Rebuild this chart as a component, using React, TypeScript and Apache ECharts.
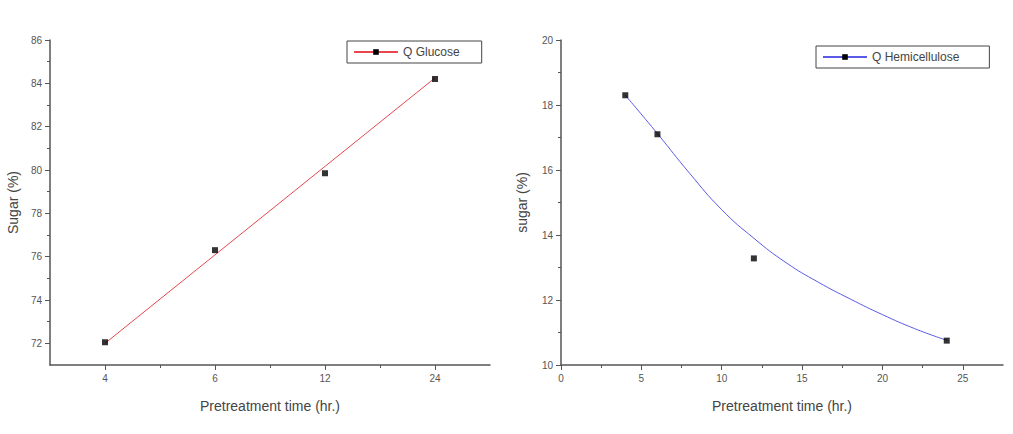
import React, { useEffect, useRef } from "react";
import * as echarts from "echarts";

// Left chart: glucose
const glucoseTimes = ["4", "6", "12", "24"];
const glucoseValues = [72.05, 76.3, 79.85, 84.2];
// straight fitted line, read at its two ends (first and last time)
const glucoseFitIdx = [0, 3];
const glucoseFitValues = [72.0, 84.25];
const leftYMajor = [72, 74, 76, 78, 80, 82, 84, 86];
const leftYMinor = [73, 75, 77, 79, 81, 83, 85];

// Right chart: hemicellulose
const hemiTimes = [4, 6, 12, 24];
const hemiValues = [18.3, 17.1, 13.28, 10.75];
const hemiFitX = [4, 6, 8, 10, 12, 14, 16, 18, 20, 22, 24];
const hemiFitY = [18.3, 17.12, 15.9, 14.78, 13.9, 13.15, 12.55, 12.03, 11.55, 11.12, 10.76];
const rightXMajor = [0, 5, 10, 15, 20, 25];
const rightXMinor = [2.5, 7.5, 12.5, 17.5, 22.5];
const rightYMajor = [10, 12, 14, 16, 18, 20];
const rightYMinor = [11, 13, 15, 17, 19];

const FONT = "Liberation Sans, Arial, sans-serif";
const AXIS_COLOR = "#555";
const LABEL_COLOR = "#555";

export default function App() {
  const ref = useRef<HTMLDivElement>(null);
  useEffect(() => {
    if (!ref.current) return;
    const chart = echarts.init(ref.current, undefined, { renderer: "svg" });

    const axisLine = { show: true, onZero: false, lineStyle: { color: AXIS_COLOR, width: 1.5 } };
    const noLine = { show: false, onZero: false };
    const labelStyle = { color: LABEL_COLOR, fontSize: 10, fontFamily: FONT };
    const nameStyle = { color: "#444", fontSize: 14, fontFamily: FONT };
    const legendText = { color: "#444", fontSize: 12, fontFamily: FONT };

    const leftIdx = glucoseTimes.map((_, i) => i);

    const option: any = {
      animation: false,
      backgroundColor: "#fff",
      textStyle: { fontFamily: FONT },
      grid: [
        { left: 50, top: 40, width: 440, height: 325 },
        { left: 561, top: 40, width: 442, height: 325 },
      ],
      legend: [
        {
          data: ["Q Glucose"],
          left: 347,
          top: 41,
          padding: [5, 22, 5, 6],
          itemWidth: 44,
          itemHeight: 7,
          borderColor: "#444",
          borderWidth: 1,
          textStyle: legendText,
        },
        {
          data: ["Q Hemicellulose"],
          left: 816,
          top: 46,
          padding: [5, 30, 5, 6],
          itemWidth: 44,
          itemHeight: 7,
          borderColor: "#444",
          borderWidth: 1,
          textStyle: legendText,
        },
      ],
      xAxis: [
        {
          type: "value",
          gridIndex: 0,
          position: "bottom",
          min: -0.5,
          max: 3.5,
          axisLine,
          splitLine: { show: false },
          axisTick: { show: true, length: 5, lineStyle: { color: AXIS_COLOR }, customValues: leftIdx },
          axisLabel: {
            ...labelStyle,
            margin: 8,
            customValues: leftIdx,
            formatter: (v: number) => glucoseTimes[Math.round(v)] ?? "",
          },
          name: "Pretreatment time (hr.)",
          nameLocation: "middle",
          nameGap: 34,
          nameTextStyle: nameStyle,
        },
        {
          type: "value",
          gridIndex: 0,
          position: "bottom",
          min: -0.5,
          max: 3.5,
          axisLine: noLine,
          splitLine: { show: false },
          axisTick: { show: true, length: 3, lineStyle: { color: AXIS_COLOR }, customValues: [0.5, 1.5, 2.5] },
          axisLabel: { show: false },
        },
        {
          type: "value",
          gridIndex: 1,
          position: "bottom",
          min: 0,
          max: 27.5,
          axisLine,
          splitLine: { show: false },
          axisTick: { show: true, length: 5, lineStyle: { color: AXIS_COLOR }, customValues: rightXMajor },
          axisLabel: { ...labelStyle, margin: 8, customValues: rightXMajor },
          name: "Pretreatment time (hr.)",
          nameLocation: "middle",
          nameGap: 34,
          nameTextStyle: nameStyle,
        },
        {
          type: "value",
          gridIndex: 1,
          position: "bottom",
          min: 0,
          max: 27.5,
          axisLine: noLine,
          splitLine: { show: false },
          axisTick: { show: true, length: 3, lineStyle: { color: AXIS_COLOR }, customValues: rightXMinor },
          axisLabel: { show: false },
        },
      ],
      yAxis: [
        {
          type: "value",
          gridIndex: 0,
          position: "left",
          min: 71,
          max: 86,
          axisLine,
          splitLine: { show: false },
          axisTick: { show: true, length: 5, lineStyle: { color: AXIS_COLOR }, customValues: leftYMajor },
          axisLabel: { ...labelStyle, margin: 8, customValues: leftYMajor },
          name: "Sugar (%)",
          nameLocation: "middle",
          nameGap: 30,
          nameTextStyle: nameStyle,
        },
        {
          type: "value",
          gridIndex: 0,
          position: "left",
          min: 71,
          max: 86,
          axisLine: noLine,
          splitLine: { show: false },
          axisTick: { show: true, length: 3, lineStyle: { color: AXIS_COLOR }, customValues: leftYMinor },
          axisLabel: { show: false },
        },
        {
          type: "value",
          gridIndex: 1,
          position: "left",
          min: 10,
          max: 20,
          axisLine,
          splitLine: { show: false },
          axisTick: { show: true, length: 5, lineStyle: { color: AXIS_COLOR }, customValues: rightYMajor },
          axisLabel: { ...labelStyle, margin: 8, customValues: rightYMajor },
          name: "sugar (%)",
          nameLocation: "middle",
          nameGap: 32,
          nameTextStyle: nameStyle,
        },
        {
          type: "value",
          gridIndex: 1,
          position: "left",
          min: 10,
          max: 20,
          axisLine: noLine,
          splitLine: { show: false },
          axisTick: { show: true, length: 3, lineStyle: { color: AXIS_COLOR }, customValues: rightYMinor },
          axisLabel: { show: false },
        },
      ],
      series: [
        {
          name: "Q Glucose",
          type: "line",
          xAxisIndex: 0,
          yAxisIndex: 0,
          data: glucoseFitIdx.map((x, i) => [x, glucoseFitValues[i]]),
          symbol: "rect",
          symbolSize: 6,
          showSymbol: false,
          itemStyle: { color: "#000" },
          lineStyle: { color: "#e5484d", width: 1 },
          z: 2,
        },
        {
          name: "glucosePoints",
          type: "scatter",
          xAxisIndex: 0,
          yAxisIndex: 0,
          data: glucoseValues.map((v, i) => [leftIdx[i], v]),
          symbol: "rect",
          symbolSize: 6,
          itemStyle: { color: "#000" },
          z: 4,
        },
        {
          name: "Q Hemicellulose",
          type: "line",
          xAxisIndex: 2,
          yAxisIndex: 2,
          data: hemiFitX.map((x, i) => [x, hemiFitY[i]]),
          smooth: true,
          symbol: "rect",
          symbolSize: 6,
          showSymbol: false,
          itemStyle: { color: "#000" },
          lineStyle: { color: "#5a5ae6", width: 1 },
          z: 2,
        },
        {
          name: "hemiPoints",
          type: "scatter",
          xAxisIndex: 2,
          yAxisIndex: 2,
          data: hemiTimes.map((x, i) => [x, hemiValues[i]]),
          symbol: "rect",
          symbolSize: 6,
          itemStyle: { color: "#000" },
          z: 4,
        },
      ],
    };
    chart.setOption(option);
    return () => chart.dispose();
  }, []);

  return (
    <div
      ref={ref}
      style={{ position: "fixed", left: 0, top: 0, width: 1013, height: 434, background: "#fff" }}
    />
  );
}
